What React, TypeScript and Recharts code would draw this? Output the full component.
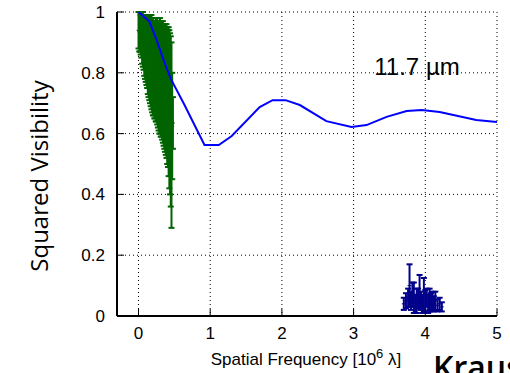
import {
  ComposedChart,
  CartesianGrid,
  ErrorBar,
  Line,
  Scatter,
  XAxis,
  YAxis,
} from "recharts";

// model curve (blue)
const modelFreq = [0, 0.15, 0.25, 0.33, 0.4, 0.46, 0.64, 0.92, 1.12, 1.3, 1.69, 1.87, 2.05, 2.25, 2.62, 2.97, 3.18, 3.46, 3.74, 3.95, 4.2, 4.71, 5.0];
const modelVis = [1.0, 0.97, 0.91, 0.855, 0.81, 0.776, 0.695, 0.5625, 0.5625, 0.592, 0.6875, 0.71, 0.71, 0.694, 0.641, 0.622, 0.628, 0.655, 0.674, 0.678, 0.671, 0.645, 0.638];

// short baselines (green)
const greenFreq = [
  0.0, 0.01, 0.02, 0.03, 0.04, 0.05, 0.06, 0.07, 0.08, 0.09, 0.1, 0.11, 0.12, 0.13, 0.14, 0.15, 0.16,
  0.17, 0.18, 0.19, 0.2, 0.21, 0.22, 0.23, 0.24, 0.25, 0.26, 0.27, 0.28, 0.29, 0.3, 0.31, 0.32, 0.33,
  0.34, 0.35, 0.36, 0.37, 0.38, 0.39, 0.4, 0.41, 0.42, 0.43, 0.44, 0.45, 0.46, 0.47, 0.48,
];
const greenVis = [
  0.94, 0.935, 0.935, 0.925, 0.925, 0.91, 0.91, 0.9, 0.89, 0.88, 0.88, 0.87, 0.87, 0.855, 0.855, 0.845, 0.845,
  0.835, 0.835, 0.825, 0.82, 0.81, 0.81, 0.8, 0.81, 0.8, 0.805, 0.785, 0.79, 0.78, 0.79, 0.77, 0.78, 0.77,
  0.77, 0.76, 0.75, 0.75, 0.74, 0.74, 0.725, 0.715, 0.705, 0.68, 0.665, 0.64, 0.595, 0.625, 0.635,
];
const greenErr = [
  0.06, 0.065, 0.065, 0.065, 0.075, 0.08, 0.09, 0.09, 0.1, 0.1, 0.11, 0.11, 0.12, 0.125, 0.135, 0.135, 0.145,
  0.145, 0.155, 0.155, 0.16, 0.15, 0.16, 0.15, 0.17, 0.16, 0.175, 0.165, 0.18, 0.18, 0.19, 0.18, 0.19, 0.19,
  0.2, 0.2, 0.2, 0.21, 0.21, 0.22, 0.225, 0.225, 0.245, 0.26, 0.265, 0.28, 0.305, 0.175, 0.085,
];

// long baselines (navy)
const navyFreq = [3.7, 3.73, 3.76, 3.78, 3.8, 3.82, 3.84, 3.86, 3.88, 3.9, 3.92, 3.94, 3.96, 3.98, 4.0, 4.02, 4.04, 4.06, 4.08, 4.1, 4.12, 4.14, 4.17, 4.2, 4.23];
const navyVis = [0.04, 0.05, 0.06, 0.1, 0.05, 0.07, 0.06, 0.04, 0.05, 0.06, 0.08, 0.05, 0.04, 0.07, 0.05, 0.06, 0.04, 0.055, 0.045, 0.05, 0.04, 0.05, 0.035, 0.04, 0.03];
const navyErr = [0.02, 0.025, 0.03, 0.07, 0.03, 0.04, 0.05, 0.03, 0.04, 0.03, 0.055, 0.03, 0.03, 0.055, 0.035, 0.03, 0.03, 0.035, 0.03, 0.03, 0.025, 0.03, 0.02, 0.02, 0.015];

const xTicks = [0, 1, 2, 3, 4, 5];
const yTicks = [0, 0.2, 0.4, 0.6, 0.8, 1];

const model = modelFreq.map((x, i) => ({ x, y: modelVis[i] }));
const green = greenFreq.map((x, i) => ({ x, y: greenVis[i], err: greenErr[i] }));
const navy = navyFreq.map((x, i) => ({ x, y: navyVis[i], err: navyErr[i] }));

const tickFont = { fontSize: 17, fill: "#000", fontFamily: "Liberation Sans" };
const axisLine = { stroke: "#000", strokeWidth: 2 };

const plus = (color: string) => (p: any) => (
  <path
    d={`M${p.cx - 2},${p.cy}h4M${p.cx},${p.cy - 2}v4`}
    stroke={color}
    strokeWidth={1}
  />
);

export default function App() {
  return (
    <div
      style={{
        position: "absolute",
        left: 0,
        top: 0,
        width: 510,
        height: 373,
        background: "#fff",
        overflow: "hidden",
      }}
    >
      <ComposedChart
        width={510}
        height={373}
        margin={{ top: 12, right: 13, bottom: 0, left: 0 }}
      >
        <CartesianGrid
          xAxisId="b"
          yAxisId="l"
          stroke="#000"
          strokeDasharray="1 3"
        />
        <XAxis
          xAxisId="b"
          type="number"
          dataKey="x"
          domain={[-0.3, 5]}
          ticks={xTicks}
          allowDataOverflow
          height={57}
          axisLine={axisLine}
          tickLine={{ stroke: "#000" }}
          tickSize={-7}
          tickMargin={18}
          tick={tickFont}
        />
        <XAxis
          xAxisId="t"
          orientation="top"
          type="number"
          dataKey="x"
          domain={[-0.3, 5]}
          ticks={xTicks}
          allowDataOverflow
          height={0}
          axisLine={axisLine}
          tickLine={{ stroke: "#000" }}
          tickSize={-7}
          tickFormatter={() => ""}
        />
        <YAxis
          yAxisId="l"
          type="number"
          dataKey="y"
          domain={[0, 1]}
          ticks={yTicks}
          allowDataOverflow
          width={117}
          axisLine={axisLine}
          tickLine={{ stroke: "#000" }}
          tickSize={-7}
          tickMargin={19}
          tick={tickFont}
          tickFormatter={(v: number) => String(v)}
        />
        <YAxis
          yAxisId="r"
          orientation="right"
          type="number"
          dataKey="y"
          domain={[0, 1]}
          ticks={yTicks}
          allowDataOverflow
          width={0}
          axisLine={axisLine}
          tickLine={{ stroke: "#000" }}
          tickSize={-7}
          tickFormatter={() => ""}
        />
        <Scatter
          xAxisId="b"
          yAxisId="l"
          data={green}
          dataKey="y"
          fill="#006400"
          shape={plus("#006400")}
          isAnimationActive={false}
        >
          <ErrorBar dataKey="err" direction="y" width={3} stroke="#006400" strokeWidth={2} />
        </Scatter>
        <Scatter
          xAxisId="b"
          yAxisId="l"
          data={navy}
          dataKey="y"
          fill="#00008b"
          shape={plus("#00008b")}
          isAnimationActive={false}
        >
          <ErrorBar dataKey="err" direction="y" width={3} stroke="#00008b" strokeWidth={2} />
        </Scatter>
        <Line
          xAxisId="b"
          yAxisId="l"
          data={model}
          dataKey="y"
          type="linear"
          stroke="#0000ff"
          strokeWidth={2}
          dot={false}
          isAnimationActive={false}
        />
      </ComposedChart>
      <svg
        width={510}
        height={373}
        style={{ position: "absolute", left: 0, top: 0, pointerEvents: "none" }}
      >
        <text
          x={417}
          y={75}
          textAnchor="middle"
          fontFamily="Liberation Sans"
          fontSize={24}
          fill="#000"
        >
          11.7 µm
        </text>
        <text
          transform="translate(48,176) rotate(-90)"
          textAnchor="middle"
          fontFamily="Open Sans"
          fontSize={24}
          fill="#000"
        >
          Squared Visibility
        </text>
        <text
          x={306}
          y={365}
          textAnchor="middle"
          fontFamily="Liberation Sans"
          fontSize={17}
          fill="#000"
        >
          Spatial Frequency [10
          <tspan dy={-7} fontSize={13}>6</tspan>
          <tspan dy={7}> λ]</tspan>
        </text>
        <text
          x={433}
          y={379}
          fontFamily="Open Sans"
          fontWeight={600}
          fontSize={32}
          fill="#000"
        >
          Kraus
        </text>
      </svg>
    </div>
  );
}
